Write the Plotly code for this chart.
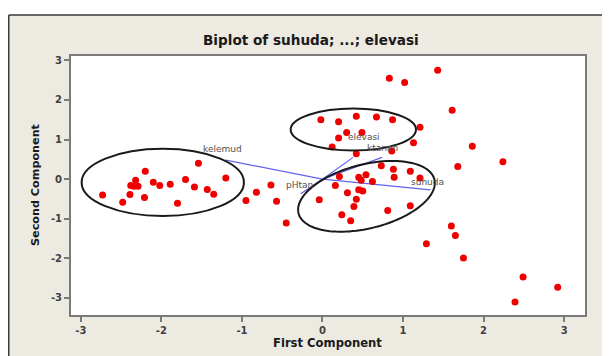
import numpy as np
import plotly.graph_objects as go

# ---------------- data ----------------
score_x = [-2.73, -2.48, -2.39, -2.21, -2.38, -2.34, -2.32, -2.29, -2.20, -2.10,
           -2.02, -1.89, -1.80, -1.70, -1.59, -1.54, -1.43, -1.35, -1.20,
           -0.95, -0.82, -0.64, -0.57, -0.45,
           -0.02, 0.20, 0.42, 0.67, 0.87, 0.30, 0.49, 0.20, 0.12,
           0.83, 1.02, 1.43, 1.61, 1.21, 1.13, 1.86, 0.86, 0.42, 2.24, 1.68,
           0.73, 0.88, 1.09, 0.21, 0.45, 0.54, 0.48, 0.62, 0.89, 1.21,
           0.16, 0.31, 0.45, 0.50, 0.42, -0.04, 0.39, 0.24, 0.35, 0.81, 1.09,
           1.60, 1.65, 1.29, 1.75, 2.49, 2.92, 2.39]
score_y = [-0.40, -0.58, -0.39, -0.46, -0.16, -0.18, -0.03, -0.18, 0.20, -0.08,
           -0.16, -0.13, -0.61, -0.01, -0.20, 0.40, -0.26, -0.38, 0.03,
           -0.54, -0.33, -0.15, -0.56, -1.11,
           1.50, 1.45, 1.59, 1.57, 1.50, 1.18, 1.18, 1.04, 0.81,
           2.55, 2.44, 2.75, 1.74, 1.31, 0.92, 0.83, 0.71, 0.64, 0.44, 0.32,
           0.34, 0.25, 0.20, 0.07, 0.05, 0.11, -0.03, -0.06, 0.05, 0.03,
           -0.16, -0.34, -0.27, -0.30, -0.51, -0.52, -0.69, -0.90, -1.05, -0.79, -0.67,
           -1.18, -1.42, -1.63, -1.99, -2.47, -2.73, -3.10]

var_names = ["kelemud", "pHtan", "suhuda", "elevasi", "ktanah"]
load_x = [-1.20, -0.27, 1.34, 0.38, 0.74]
load_y = [0.48, -0.37, -0.27, 0.55, 0.55]

x_ticks = [-3, -2, -1, 0, 1, 2, 3]
y_ticks = [-3, -2, -1, 0, 1, 2, 3]

# ---------------- styling / layout helpers ----------------
OFF = 8                      # page body margin in the browser
W, H = 610, 356              # figure size (overflows the window slightly)
PL, PR, PT, PB = 71, 585, 56, 315   # plot area edges in window pixels
L, T = PL - OFF, PT - OFF
R, B = W - (PR - OFF), H - (PB - OFF)
pw, ph = PR - PL, PB - PT
XR = [-3.122, 3.259]
YR = [-3.43, 3.11]
xs = pw / (XR[1] - XR[0])
ys = ph / (YR[1] - YR[0])


def wx(p):
    """window pixel x -> paper x"""
    return (p - PL) / pw


def wy(q):
    """window pixel y -> paper y"""
    return (PB - q) / ph


label_shift = {"kelemud": (-3, 11), "pHtan": (-1, 9), "suhuda": (-3, 8),
               "elevasi": (11, 20), "ktanah": (0, 9)}

fig = go.Figure()

for name, lx, ly in zip(var_names, load_x, load_y):
    fig.add_trace(go.Scatter(x=[0, lx], y=[0, ly], mode="lines",
                             line=dict(color="rgba(70,70,230,0.85)", width=1.2),
                             hoverinfo="skip", showlegend=False))

fig.add_trace(go.Scatter(x=score_x, y=score_y, mode="markers",
                         marker=dict(size=7, color="#EE0000"),
                         showlegend=False))

for name, lx, ly in zip(var_names, load_x, load_y):
    dx, dy = label_shift[name]
    fig.add_annotation(x=lx, y=ly, text=name, showarrow=False,
                       xshift=dx, yshift=dy,
                       font=dict(family="DejaVu Sans", size=9, color="#505050"))

# ellipses (hand-drawn annotation groups)
shapes = []
shapes.append(dict(type="circle", xref="x", yref="y", x0=-2.99, x1=-0.975,
                   y0=-0.93, y1=0.765, line=dict(color="#1a1a1a", width=2)))
shapes.append(dict(type="circle", xref="x", yref="y", x0=-0.395, x1=1.161,
                   y0=0.722, y1=1.783, line=dict(color="#1a1a1a", width=2)))
# tilted ellipse, defined in pixel geometry then converted to data units
cx_d, cy_d = 0.546, -0.434
a_px, b_px, th = 70, 32, np.deg2rad(14)
t = np.linspace(0, 2 * np.pi, 121)
ex = a_px * np.cos(t) * np.cos(th) - b_px * np.sin(t) * np.sin(th)
ey = a_px * np.cos(t) * np.sin(th) + b_px * np.sin(t) * np.cos(th)
pts = [(cx_d + u / xs, cy_d + v / ys) for u, v in zip(ex, ey)]
path = "M " + " L ".join(f"{u:.4f},{v:.4f}" for u, v in pts) + " Z"
shapes.append(dict(type="path", xref="x", yref="y", path=path,
                   line=dict(color="#1a1a1a", width=2)))

# outer frame: white strip above the frame plus border lines
shapes.append(dict(type="rect", xref="paper", yref="paper", layer="above",
                   x0=wx(0), x1=wx(630), y0=wy(15), y1=wy(0),
                   fillcolor="white", line=dict(width=0)))
shapes.append(dict(type="line", xref="paper", yref="paper", layer="above",
                   x0=wx(8.75), x1=wx(630), y0=wy(15), y1=wy(15),
                   line=dict(color="#3a3a3a", width=1.5)))
shapes.append(dict(type="line", xref="paper", yref="paper", layer="above",
                   x0=wx(8.75), x1=wx(8.75), y0=wy(15), y1=wy(380),
                   line=dict(color="#3a3a3a", width=1.5)))

fig.add_annotation(xref="paper", yref="paper", x=wx(310.5), y=wy(40),
                   text="<b>Biplot of suhuda; ...; elevasi</b>", showarrow=False,
                   xanchor="center", yanchor="middle",
                   font=dict(family="DejaVu Sans", size=13.6, color="#1a1a1a"))
fig.add_annotation(xref="paper", yref="paper", x=wx(327), y=wy(343),
                   text="<b>First Component</b>", showarrow=False,
                   xanchor="center", yanchor="middle",
                   font=dict(family="DejaVu Sans", size=11.6, color="#1a1a1a"))
fig.add_annotation(xref="paper", yref="paper", x=wx(35), y=wy(185),
                   text="<b>Second Component</b>", showarrow=False, textangle=-90,
                   xanchor="center", yanchor="middle",
                   font=dict(family="DejaVu Sans", size=11.2, color="#1a1a1a"))

axis_common = dict(showgrid=False, zeroline=False, showline=True, mirror=True,
                   linecolor="#7a7a7a", linewidth=2, ticks="outside", ticklen=5,
                   tickwidth=1.5, tickcolor="#7a7a7a",
                   tickfont=dict(family="DejaVu Sans", size=10, color="#404040",
                                 weight="bold"))

fig.update_layout(
    width=W, height=H,
    margin=dict(l=L, r=R, t=T, b=B),
    paper_bgcolor="#EDEAE2", plot_bgcolor="white",
    xaxis=dict(range=XR, tickvals=x_ticks, ticktext=[str(v) for v in x_ticks],
               **axis_common),
    yaxis=dict(range=YR, tickvals=y_ticks, ticktext=[str(v) for v in y_ticks],
               **axis_common),
    shapes=shapes,
    showlegend=False,
)

fig.write_html("out.html")
